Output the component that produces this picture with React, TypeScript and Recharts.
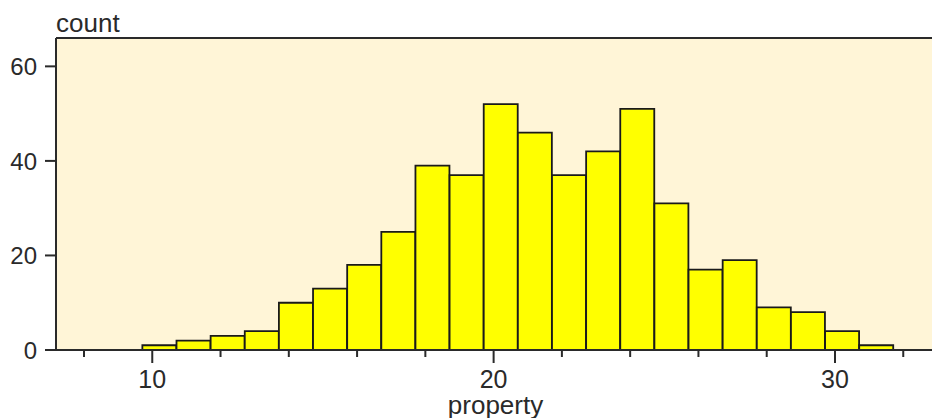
import React from 'react';
import { ComposedChart, Bar, XAxis, YAxis, CartesianGrid, ReferenceLine } from 'recharts';

// histogram bins (bin centres of the property variable) and their counts
const binCenters: number[] = [10.21, 11.21, 12.21, 13.21, 14.21, 15.21, 16.21, 17.21, 18.21, 19.21, 20.21, 21.21, 22.21, 23.21, 24.21, 25.21, 26.21, 27.21, 28.21, 29.21, 30.21, 31.21];
const counts: number[] = [1, 2, 3, 4, 10, 13, 18, 25, 39, 37, 52, 46, 37, 42, 51, 31, 17, 19, 9, 8, 4, 1];

const xTicks: number[] = [8, 10, 12, 14, 16, 18, 20, 22, 24, 26, 28, 30, 32];
const xLabelled: number[] = [10, 20, 30];
const yTicks: number[] = [0, 20, 40, 60];
const xDomain: [number, number] = [7.18, 32.93];
const yDomain: [number, number] = [0, 66];

const data = binCenters.map((c, i) => ({ bin: c, count: counts[i] }));

const FONT = '"Liberation Sans", Arial, sans-serif';
const INK = '#2a2a2a';

const XTick = (props: any) => {
  const { x, y, payload } = props;
  const major = xLabelled.includes(payload.value);
  return (
    <g>
      <line x1={x} x2={x} y1={y} y2={y + (major ? 13 : 7)} stroke={INK} strokeWidth={2} />
      {major && (
        <text x={x} y={y + 38} textAnchor="middle" fontFamily={FONT} fontSize={25} fill={INK}>
          {payload.value}
        </text>
      )}
    </g>
  );
};

const YTick = (props: any) => {
  const { x, y, payload } = props;
  return (
    <text x={x} y={y + 9} textAnchor="end" fontFamily={FONT} fontSize={24} fill={INK}>
      {payload.value}
    </text>
  );
};

export default function App() {
  return (
    <div style={{ position: 'absolute', left: 0, top: 0, width: 932, height: 418, overflow: 'hidden', background: '#fff' }}>
      <ComposedChart
        width={935}
        height={418}
        data={data}
        margin={{ top: 38, right: 0, bottom: 0, left: 0 }}
        barCategoryGap={0}
        barGap={0}
      >
        <CartesianGrid fill="#FFF5D7" stroke="none" horizontal={false} vertical={false} />
        <XAxis
          dataKey="bin"
          type="number"
          domain={xDomain}
          ticks={xTicks}
          allowDataOverflow
          height={68}
          tickSize={0}
          tickMargin={0}
          tickLine={false}
          axisLine={{ stroke: INK, strokeWidth: 2 }}
          tick={<XTick />}
          interval={0}
          label={{
            content: (p: any) => (
              <text
                x={p.viewBox.x + p.viewBox.width / 2}
                y={p.viewBox.y + 64}
                textAnchor="middle"
                fontFamily={FONT}
                fontSize={26}
                fill={INK}
              >
                property
              </text>
            ),
          }}
        />
        <YAxis
          type="number"
          domain={yDomain}
          ticks={yTicks}
          allowDataOverflow
          width={56}
          tickSize={11}
          tickMargin={8}
          tickLine={{ stroke: INK, strokeWidth: 2 }}
          axisLine={{ stroke: INK, strokeWidth: 2 }}
          tick={<YTick />}
          interval={0}
          label={{
            content: (p: any) => (
              <text
                x={p.viewBox.x + p.viewBox.width}
                y={p.viewBox.y - 6}
                textAnchor="start"
                fontFamily={FONT}
                fontSize={26}
                fill={INK}
              >
                count
              </text>
            ),
          }}
        />
        <ReferenceLine y={66} stroke={INK} strokeWidth={2} />
        <Bar
          dataKey="count"
          fill="#FFFF00"
          stroke="#1a1a1a"
          strokeWidth={1.8}
          barSize={34}
          isAnimationActive={false}
        />
      </ComposedChart>
    </div>
  );
}
